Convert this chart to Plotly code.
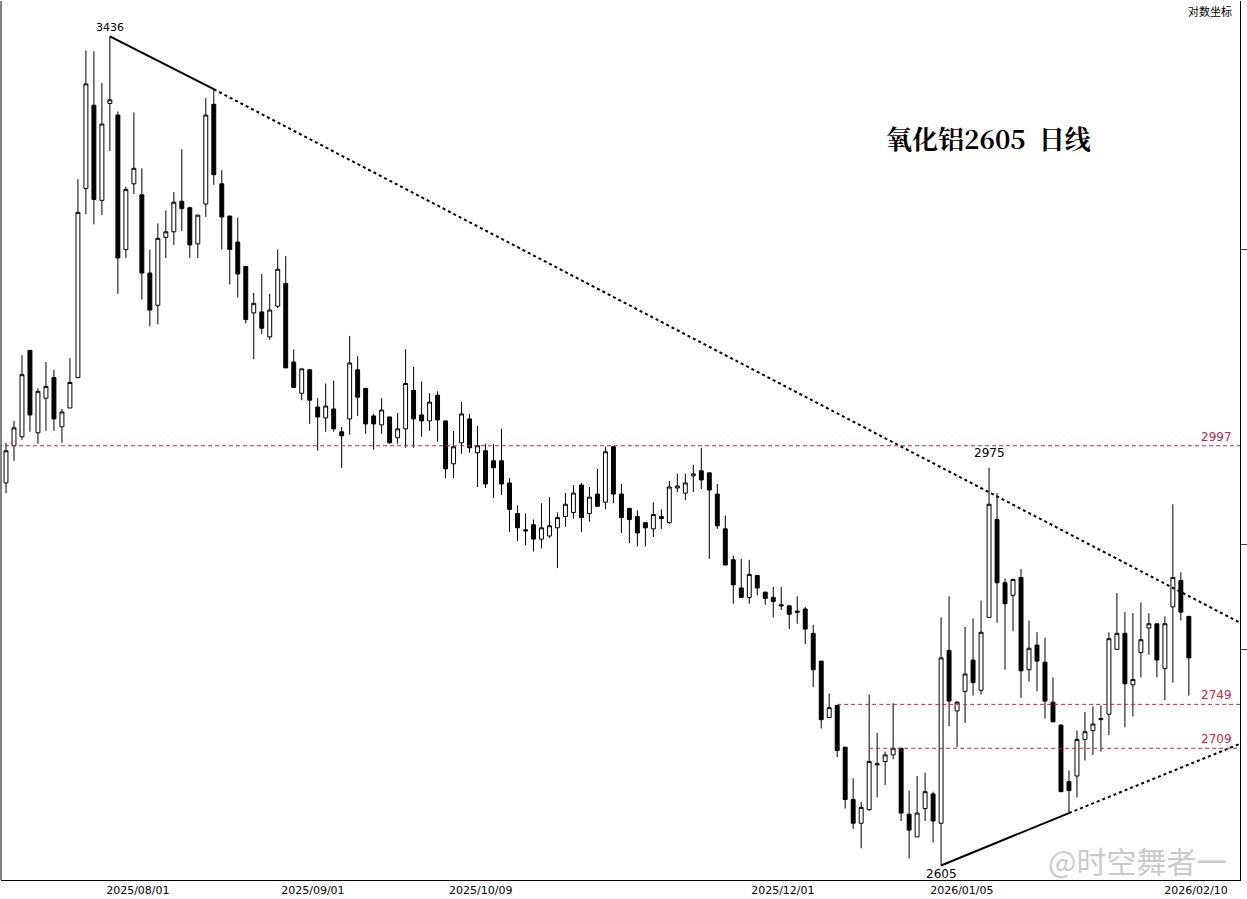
import math
import plotly.graph_objects as go

opens = [2960,2997,3006,3094,3010,3045,3066,3016,3035,3066,3266,3358,3253,3360,3347,3200,3271,3259,3175,3141,
 3213,3219,3252,3245,3206,3249,3359,3271,3236,3208,3182,3133,3134,3108,3140,3164,3082,3050,3074,3036,
 3025,3034,3011,3024,3074,3055,3027,3018,3026,3005,3014,3053,3028,3022,3048,3022,2979,3000,3024,2990,
 2992,2982,2982,2960,2930,2914,2919,2905,2908,2916,2927,2931,2958,2930,2949,2941,2996,2949,2935,2927,
 2921,2915,2927,2921,2955,2950,2967,2972,2970,2949,2915,2885,2858,2849,2870,2854,2849,2842,2841,2836,
 2838,2815,2789,2737,2748,2710,2663,2642,2654,2694,2697,2703,2709,2650,2630,2655,2668,2642,2799,2743,
 2761,2790,2762,2830,2924,2863,2851,2868,2781,2804,2788,2751,2730,2679,2684,2717,2725,2735,2740,2800,
 2815,2767,2797,2820,2824,2782,2840,2865,2831]
highs = [3000,3022,3089,3094,3055,3082,3074,3034,3086,3276,3420,3419,3383,3436,3351,3268,3350,3288,3200,3228,
 3242,3262,3309,3246,3237,3366,3376,3286,3236,3234,3182,3154,3174,3153,3200,3193,3095,3075,3075,3045,
 3060,3063,3016,3109,3088,3055,3029,3045,3026,3030,3095,3077,3062,3050,3052,3022,3012,3041,3029,3017,
 2999,2999,3014,2965,2938,2930,2924,2940,2946,2931,2950,2958,2960,2956,2974,2996,2997,2959,2935,2933,
 2921,2941,2934,2962,2969,2969,2978,2995,2970,2959,2928,2889,2886,2885,2870,2854,2859,2859,2841,2850,
 2840,2823,2789,2759,2748,2710,2682,2661,2758,2723,2706,2750,2709,2671,2684,2687,2670,2830,2850,2752,
 2821,2829,2846,2975,2950,2867,2867,2876,2827,2816,2811,2774,2731,2689,2725,2742,2747,2748,2816,2853,
 2835,2834,2844,2834,2824,2831,2939,2873,2831]
lows = [2950,2982,3003,3011,2999,3012,3012,3000,3035,3066,3238,3227,3237,3307,3153,3191,3260,3147,3119,3121,
 3191,3205,3220,3191,3191,3235,3270,3200,3163,3149,3122,3085,3111,3105,3138,3076,3056,3043,3019,2992,
 3011,3011,2975,3008,3027,3009,2993,3009,2999,2999,2995,2995,3006,3012,3001,2965,2965,2989,2990,2956,
 2955,2945,2948,2912,2903,2899,2893,2896,2906,2877,2917,2925,2912,2922,2937,2934,2940,2911,2901,2898,
 2898,2907,2915,2920,2951,2943,2951,2954,2886,2915,2880,2843,2849,2843,2851,2842,2830,2837,2819,2824,
 2805,2765,2727,2737,2701,2655,2637,2620,2653,2665,2676,2699,2644,2611,2630,2644,2625,2605,2729,2710,
 2732,2757,2758,2830,2825,2781,2817,2755,2770,2761,2736,2733,2670,2651,2665,2698,2703,2706,2721,2800,
 2728,2738,2774,2795,2774,2753,2769,2827,2757]
closes = [2992,3015,3069,3028,3052,3057,3024,3031,3061,3240,3382,3254,3337,3364,3191,3265,3288,3175,3136,3212,
 3219,3251,3244,3205,3237,3347,3281,3235,3200,3174,3126,3143,3117,3136,3179,3076,3056,3075,3043,3026,
 3037,3014,3007,3081,3046,3019,3019,3033,3000,3014,3060,3024,3022,3041,3023,2974,2996,3029,2995,2997,
 2959,2975,2959,2934,2916,2913,2905,2916,2918,2926,2939,2950,2926,2946,2937,2991,2949,2926,2924,2911,
 2916,2929,2925,2956,2957,2960,2969,2963,2953,2918,2880,2861,2849,2871,2858,2848,2845,2841,2833,2835,
 2819,2781,2735,2746,2707,2663,2642,2656,2697,2695,2703,2709,2651,2636,2651,2670,2644,2792,2752,2751,
 2777,2769,2816,2939,2863,2843,2866,2780,2801,2789,2752,2733,2670,2671,2717,2724,2731,2736,2810,2815,
 2768,2772,2809,2824,2790,2824,2868,2835,2792]

tick_idx = [16.5, 38.4, 59.4, 97.2, 119.6, 148.9]
tick_text = ["2025/08/01", "2025/09/01", "2025/10/09", "2025/12/01", "2026/01/05", "2026/02/10"]

hlines = [2997, 2749, 2709]
hline_start = [-1, 104, 108]
upper_trend = [(13, 3436), (26, 3376), (154.4, 2825)]
lower_trend = [(117, 2605), (133, 2651), (154.4, 2713)]

idx = list(range(len(opens)))
red = "#cc2244"
fig = go.Figure()
fig.add_trace(go.Candlestick(
    x=idx, open=opens, high=highs, low=lows, close=closes,
    increasing=dict(line=dict(color="black", width=1), fillcolor="white"),
    decreasing=dict(line=dict(color="black", width=1), fillcolor="black"),
    whiskerwidth=0, showlegend=False, hoverinfo="skip"))

for pts in (upper_trend, lower_trend):
    fig.add_trace(go.Scatter(x=[pts[0][0], pts[1][0]], y=[pts[0][1], pts[1][1]],
                             mode="lines", line=dict(color="black", width=2), showlegend=False))
    fig.add_trace(go.Scatter(x=[pts[1][0], pts[2][0]], y=[pts[1][1], pts[2][1]],
                             mode="lines", line=dict(color="black", width=2, dash="dot"), showlegend=False))

for v, s in zip(hlines, hline_start):
    fig.add_shape(type="line", xref="x", yref="y", x0=s, x1=154.4, y0=v, y1=v,
                  line=dict(color=red, width=1, dash="4px,3px"))
    fig.add_annotation(x=153.6, y=math.log10(v), xref="x", yref="y", text=str(v), showarrow=False,
                       xanchor="right", yanchor="bottom", font=dict(color=red, size=12, family="DejaVu Sans"))

fig.add_annotation(x=13, y=math.log10(3436), text="3436", showarrow=False, yanchor="bottom",
                   font=dict(size=11, color="black", family="DejaVu Sans"))
fig.add_annotation(x=123, y=math.log10(2975), text="2975", showarrow=False, yanchor="bottom", yshift=6,
                   font=dict(size=12, color="black", family="DejaVu Sans"))
fig.add_annotation(x=117, y=math.log10(2605), text="2605", showarrow=False, yanchor="top",
                   font=dict(size=12, color="black", family="DejaVu Sans"))
fig.add_annotation(x=0.797, y=0.845, xref="paper", yref="paper", text="<b>氧化铝2605  日线</b>", showarrow=False,
                   xanchor="center", yanchor="middle",
                   font=dict(size=26, color="black", family="Noto Serif CJK SC, Noto Sans CJK SC"))
fig.add_annotation(x=0.995, y=1.0, xref="paper", yref="paper", text="对数坐标", showarrow=False,
                   xanchor="right", yanchor="top", font=dict(size=11, color="black", family="Noto Sans CJK SC"))
fig.add_annotation(x=0.99, y=-0.005, xref="paper", yref="paper", text="@时空舞者一", showarrow=False,
                   xanchor="right", yanchor="bottom", font=dict(size=30, color="rgba(150,150,150,0.5)", family="Noto Sans CJK SC"))

fig.update_layout(
    width=1247, height=899, paper_bgcolor="white", plot_bgcolor="white",
    margin=dict(l=1, r=7, t=1, b=19),
    xaxis=dict(range=[-0.625, 154.4], rangeslider=dict(visible=False), tickvals=tick_idx, ticktext=tick_text,
               showgrid=False, zeroline=False, showline=True, linecolor="black",
               ticks="", tickfont=dict(size=11, color="black", family="DejaVu Sans")),
    yaxis=dict(type="log", range=[3.4137, 3.5412], side="right", showgrid=False, zeroline=False,
               showline=True, linecolor="black", showticklabels=False, ticks="outside", ticklen=6,
               tickvals=[2800, 2900, 3200]),
    font=dict(family="Noto Sans CJK SC"),
)
fig.add_shape(type="line", xref="paper", yref="paper", x0=0, x1=0, y0=0, y1=1, line=dict(color="black", width=1))
fig.write_html("out.html", config={"displayModeBar": False},
               post_script="document.body.style.margin='0';document.body.style.overflow='hidden';")
